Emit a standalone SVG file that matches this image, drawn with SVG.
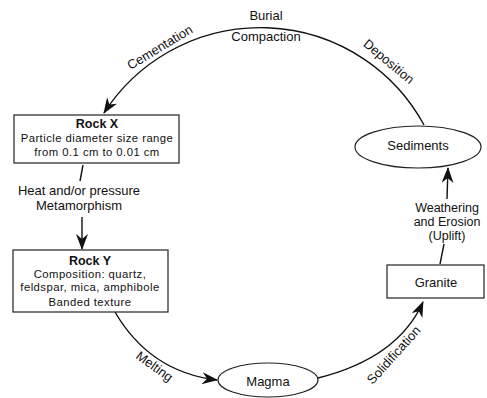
<svg xmlns="http://www.w3.org/2000/svg" width="487" height="398" viewBox="0 0 487 398">
<style>
text{font-family:"Liberation Sans",Arial,sans-serif;font-size:13px;fill:#111;text-anchor:middle}
.b{font-weight:bold;font-size:12.5px}
.s{font-size:11.3px;letter-spacing:0.45px}
.m{font-size:12.5px}
.node{fill:#fff;stroke:#222;stroke-width:1.2}
.c{fill:none;stroke:#111;stroke-width:1.4}
</style>
<defs>
<marker id="ah" viewBox="0 0 16 12" refX="15" refY="6" markerWidth="16" markerHeight="12" markerUnits="userSpaceOnUse" orient="auto">
<path d="M0,0 L16,6 L0,12 L5,6 Z" fill="#111"/>
</marker>
</defs>
<rect width="487" height="398" fill="#fff"/>
<g id="connectors">
<path class="c" d="M424 125 A186 186 0 0 0 104 113" marker-end="url(#ah)"/>
<path class="c" d="M83 165 L80 181"/>
<path class="c" d="M82 217 L82 249" marker-end="url(#ah)"/>
<path class="c" d="M115 312 Q150 372 217 380" marker-end="url(#ah)"/>
<path class="c" d="M318 378 Q398 358 423 302" marker-end="url(#ah)"/>
<path class="c" d="M440 264 L444 244"/>
<path class="c" d="M447 199 L448 168" marker-end="url(#ah)"/>
</g>
<g id="labels">
<text x="266" y="20">Burial</text>
<text x="266" y="41">Compaction</text>
<text transform="translate(162,51) rotate(-31)">Cementation</text>
<text transform="translate(386,65) rotate(40)">Deposition</text>
<text x="79" y="195">Heat and/or pressure</text>
<text x="79" y="210">Metamorphism</text>
<text transform="translate(152,370) rotate(36)">Melting</text>
<text transform="translate(397,358) rotate(-48)">Solidification</text>
<text class="m" x="447" y="212">Weathering</text>
<text class="m" x="447" y="226">and Erosion</text>
<text class="m" x="447" y="240">(Uplift)</text>
</g>
<g id="rockX">
<rect class="node" x="14" y="115" width="165" height="48"/>
<text class="b" x="97" y="128">Rock X</text>
<text class="s" x="97" y="142">Particle diameter size range</text>
<text class="s" x="97" y="156">from 0.1 cm to 0.01 cm</text>
</g>
<g id="rockY">
<rect class="node" x="13" y="250" width="155" height="62"/>
<text class="b" x="90" y="265">Rock Y</text>
<text class="s" x="90" y="278">Composition: quartz,</text>
<text class="s" x="90" y="291">feldspar, mica, amphibole</text>
<text class="s" x="90" y="306">Banded texture</text>
</g>
<g id="sediments">
<ellipse class="node" cx="418" cy="147" rx="63" ry="21"/>
<text x="418" y="150">Sediments</text>
</g>
<g id="granite">
<rect class="node" x="387" y="265" width="97" height="33"/>
<text x="436" y="287">Granite</text>
</g>
<g id="magma">
<ellipse class="node" cx="268" cy="380" rx="50" ry="17"/>
<text x="268" y="386">Magma</text>
</g>
</svg>
